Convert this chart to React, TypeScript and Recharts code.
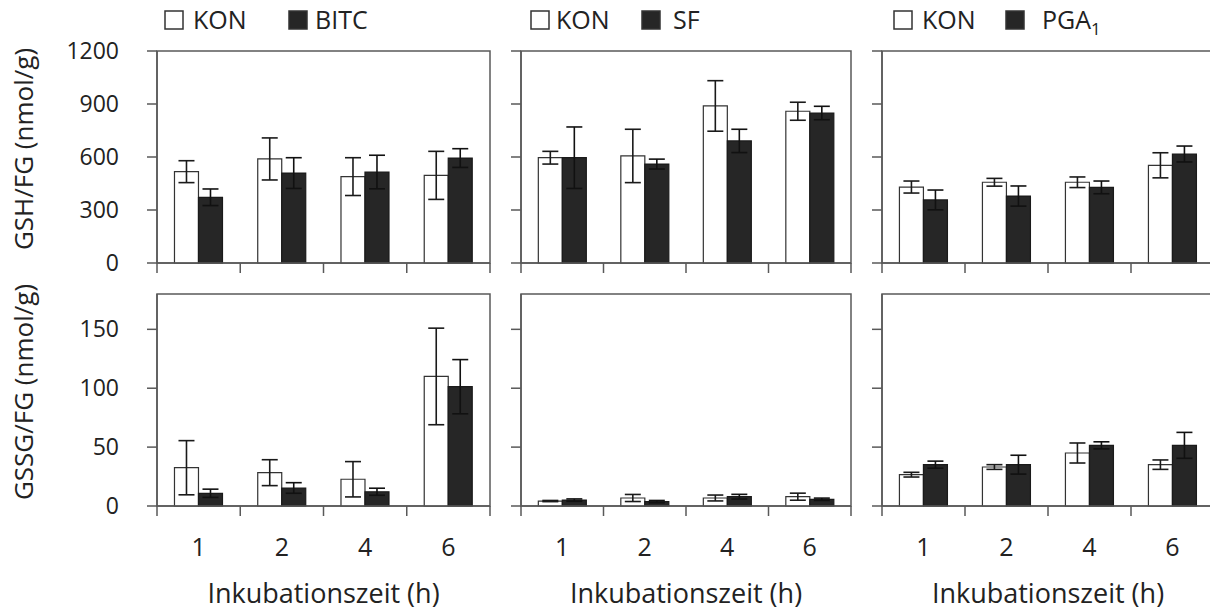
import React from 'react'
import { BarChart, Bar, XAxis, YAxis, ErrorBar, ReferenceArea, Label } from 'recharts'

// incubation times (h)
const times = ['1', '2', '4', '6']

// GSH per fresh weight (nmol/g), means and SD
const gshKonA = [517, 589, 489, 496]
const gshKonAErr = [62, 119, 107, 136]
const gshBitc = [372, 509, 515, 594]
const gshBitcErr = [47, 87, 95, 53]
const gshKonB = [596, 606, 889, 859]
const gshKonBErr = [36, 151, 143, 51]
const gshSf = [596, 560, 691, 849]
const gshSfErr = [174, 28, 66, 38]
const gshKonC = [430, 457, 457, 553]
const gshKonCErr = [34, 22, 30, 71]
const gshPga = [357, 379, 428, 617]
const gshPgaErr = [56, 57, 36, 45]

// GSSG per fresh weight (nmol/g), means and SD
const gssgKonA = [32.5, 28.3, 22.7, 110]
const gssgKonAErr = [23, 11, 15, 41]
const gssgBitc = [10.8, 15.3, 12.1, 101.3]
const gssgBitcErr = [3.5, 4.5, 3, 23]
const gssgKonB = [4.2, 6.8, 6.8, 7.9]
const gssgKonBErr = [0.5, 3, 2.5, 3]
const gssgSf = [5, 3.7, 7.9, 5.7]
const gssgSfErr = [1, 1, 2, 1]
const gssgKonC = [26.6, 33.1, 45, 35.1]
const gssgKonCErr = [2, 2, 8.5, 4]
const gssgPga = [35.1, 35.1, 51.5, 51.5]
const gssgPgaErr = [3, 8, 3, 11]

const gshTicks = [0, 300, 600, 900, 1200]
const gssgTicks = [0, 50, 100, 150]

const FONT = '"Open Sans", sans-serif'
const AXIS = '#595959'
const INK = '#222'
const TICK = 10

function rows(kon: number[], konErr: number[], trt: number[], trtErr: number[]) {
  return times.map((t, i) => ({ t, kon: kon[i], konErr: konErr[i], trt: trt[i], trtErr: trtErr[i] }))
}

// x ticks sit on the category borders, labels in the middle
function borderTick(showLabel: boolean, half: number) {
  return (props: any) => {
    const { x, y, payload } = props
    const h = typeof payload?.offset === 'number' && payload.offset > 0 ? payload.offset : half
    const last = payload?.value === times[times.length - 1]
    return (
      <g>
        <line x1={x - h} x2={x - h} y1={y - TICK} y2={y} stroke={AXIS} strokeWidth={1.5} />
        {last && <line x1={x + h} x2={x + h} y1={y - TICK} y2={y} stroke={AXIS} strokeWidth={1.5} />}
        {showLabel && (
          <text x={x} y={y + 40} textAnchor="middle" fontSize={25} fontFamily={FONT} fill={INK}>
            {payload.value}
          </text>
        )}
      </g>
    )
  }
}

const noTick = () => <g />

interface PanelProps {
  left: number; top: number; axisW: number; plotW: number
  marginTop: number; axisH: number
  data: ReturnType<typeof rows>
  domain: [number, number]; ticks: number[]
  yLabels?: boolean; yTitle?: string; xLabels?: boolean
}

function Panel(p: PanelProps) {
  const width = p.axisW + p.plotW + 6
  const height = p.marginTop + 212 + p.axisH
  return (
    <div style={{ position: 'absolute', left: p.left, top: p.top }}>
      <BarChart width={width} height={height} data={p.data}
        margin={{ top: p.marginTop, right: 6, bottom: 0, left: 0 }}
        barCategoryGap="21%" barGap={0}>
        <XAxis dataKey="t" height={p.axisH} interval={0} tickLine={false} tickSize={TICK} tickMargin={0}
          axisLine={{ stroke: AXIS, strokeWidth: 1.5 }}
          tick={borderTick(!!p.xLabels, p.plotW / 8)}>
          {p.xLabels && (
            <Label content={({ viewBox }: any) => (
              <text x={viewBox.x + viewBox.width / 2} y={viewBox.y + viewBox.height - 8}
                textAnchor="middle" fontSize={27} fontFamily={FONT} fill={INK}>
                Inkubationszeit (h)
              </text>
            )} />
          )}
        </XAxis>
        <YAxis width={p.axisW} domain={p.domain} ticks={p.ticks} interval={0}
          tickSize={TICK} tickMargin={28}
          axisLine={{ stroke: AXIS, strokeWidth: 1.5 }}
          tickLine={{ stroke: AXIS, strokeWidth: 1.5 }}
          tick={p.yLabels ? { fontSize: 23, fill: INK, fontFamily: FONT } : noTick}>
          {p.yTitle && (
            <Label content={({ viewBox }: any) => {
              const cy = viewBox.y + viewBox.height / 2 - 8
              return (
                <text x={33} y={cy} transform={`rotate(-90, 33, ${cy})`} textAnchor="middle"
                  fontSize={26} fontFamily={FONT} fill={INK}>
                  {p.yTitle}
                </text>
              )
            }} />
          )}
        </YAxis>
        <ReferenceArea y1={p.domain[0]} y2={p.domain[1]} fill="none" stroke={AXIS} strokeWidth={1.5} ifOverflow="visible" />
        <Bar dataKey="kon" fill="#ffffff" stroke="#333" strokeWidth={1.2} isAnimationActive={false}>
          <ErrorBar dataKey="konErr" direction="y" width={8} stroke="#1a1a1a" strokeWidth={1.6} isAnimationActive={false} />
        </Bar>
        <Bar dataKey="trt" fill="#262626" stroke="#1a1a1a" strokeWidth={1.2} isAnimationActive={false}>
          <ErrorBar dataKey="trtErr" direction="y" width={8} stroke="#111" strokeWidth={1.6} isAnimationActive={false} />
        </Bar>
      </BarChart>
    </div>
  )
}

const legendItems = [
  { box: 165, text: 193, fill: '#ffffff', label: 'KON' },
  { box: 289, text: 315, fill: '#262626', label: 'BITC' },
  { box: 531, text: 556, fill: '#ffffff', label: 'KON' },
  { box: 642, text: 673, fill: '#262626', label: 'SF' },
  { box: 894, text: 922, fill: '#ffffff', label: 'KON' },
  { box: 1006, text: 1042, fill: '#262626', label: 'PGA', sub: '1' },
]

function Legends() {
  return (
    <svg width={1210} height={48} style={{ position: 'absolute', left: 0, top: 0 }}>
      {legendItems.map((it, i) => (
        <g key={i}>
          <rect x={it.box} y={11} width={18} height={18} fill={it.fill} stroke="#333" strokeWidth={1.5} />
          <text x={it.text} y={29} fontSize={25} fontFamily={FONT} fill={INK}>
            {it.label}
            {it.sub && <tspan fontSize={17} dy={6}>{it.sub}</tspan>}
          </text>
        </g>
      ))}
    </svg>
  )
}

const cols = [
  { left: 0, axisW: 157, plotW: 333 },
  { left: 501, axisW: 20, plotW: 330 },
  { left: 862, axisW: 20, plotW: 332 },
]

export default function App() {
  const gsh = [
    rows(gshKonA, gshKonAErr, gshBitc, gshBitcErr),
    rows(gshKonB, gshKonBErr, gshSf, gshSfErr),
    rows(gshKonC, gshKonCErr, gshPga, gshPgaErr),
  ]
  const gssg = [
    rows(gssgKonA, gssgKonAErr, gssgBitc, gssgBitcErr),
    rows(gssgKonB, gssgKonBErr, gssgSf, gssgSfErr),
    rows(gssgKonC, gssgKonCErr, gssgPga, gssgPgaErr),
  ]
  return (
    <div style={{ position: 'absolute', left: 0, top: 0, width: 1210, height: 611, overflow: 'hidden', background: '#fff', fontFamily: FONT }}>
      {cols.map((c, i) => (
        <Panel key={'gsh' + i} left={c.left} top={0} axisW={c.axisW} plotW={c.plotW}
          marginTop={51} axisH={22} data={gsh[i]} domain={[0, 1200]} ticks={gshTicks}
          yLabels={i === 0} yTitle={i === 0 ? 'GSH/FG (nmol/g)' : undefined} />
      ))}
      {cols.map((c, i) => (
        <Panel key={'gssg' + i} left={c.left} top={285} axisW={c.axisW} plotW={c.plotW}
          marginTop={9} axisH={105} data={gssg[i]} domain={[0, 180]} ticks={gssgTicks}
          yLabels={i === 0} yTitle={i === 0 ? 'GSSG/FG (nmol/g)' : undefined} xLabels />
      ))}
      <Legends />
    </div>
  )
}
